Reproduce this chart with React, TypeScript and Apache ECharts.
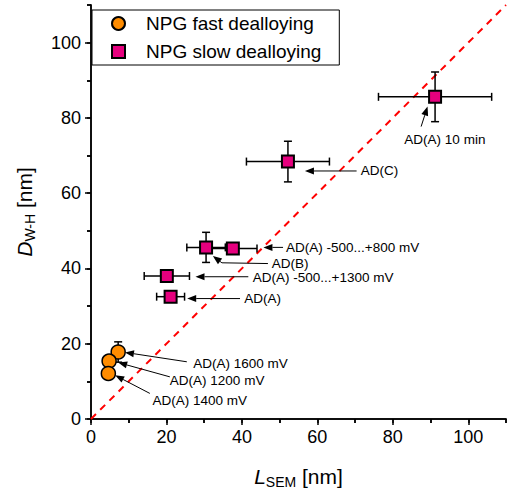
import React, { useEffect, useRef } from "react";
import * as echarts from "echarts";

// ---- data ----
const fastNames = ["AD(A) 1600 mV", "AD(A) 1200 mV", "AD(A) 1400 mV"];
const fastX = [7.2, 4.8, 4.6];
const fastY = [17.8, 15.4, 12.1];
const fastXErr = [1.0, 0.8, 1.0];
const fastYErr = [2.7, 1.2, 1.5];

const slowNames = ["AD(A) 10 min", "AD(C)", "AD(A) -500...+800 mV", "AD(B)", "AD(A) -500...+1300 mV", "AD(A)"];
const slowX = [91.2, 52.2, 37.6, 30.5, 20.1, 21.1];
const slowY = [85.6, 68.4, 45.3, 45.6, 38.0, 32.5];
const slowXErr = [15.0, 11.0, 6.4, 5.1, 6.0, 3.7];
const slowYErr = [6.6, 5.4, 1.5, 4.0, 1.5, 1.0];

const majorTicks = [0, 20, 40, 60, 80, 100];
const minorTicks = [10, 30, 50, 70, 90, 110];
const allTicks = [0, 10, 20, 30, 40, 50, 60, 70, 80, 90, 100, 110];

// annotations in data coordinates: tail, bend, tip, text anchor
const annoTexts = ["AD(A) 10 min", "AD(C)", "AD(A) -500...+800 mV", "AD(B)", "AD(A) -500...+1300 mV", "AD(A)", "AD(A) 1600 mV", "AD(A) 1200 mV", "AD(A) 1400 mV"];
const annoAlign = ["center", "left", "left", "left", "left", "left", "left", "left", "left"];
const annoTail = [[87.5, 77.7], [70.4, 65.9], [50.9, 45.6], [46.9, 41.3], [41.7, 37.8], [39.5, 32.0], [25.4, 15.2], [20.9, 11.2], [15.6, 6.8]];
const annoBend = [[87.5, 77.7], [70.4, 65.9], [50.9, 45.6], [34.7, 41.5], [41.7, 37.8], [39.5, 32.0], [25.4, 15.2], [20.9, 11.2], [15.6, 6.8]];
const annoTip = [[89.2, 83.0], [56.7, 65.9], [45.7, 45.6], [32.3, 43.3], [27.7, 37.8], [25.5, 32.0], [9.0, 17.7], [7.2, 15.0], [6.4, 11.6]];
const annoTextPos = [[93.8, 74.2], [71.5, 65.9], [51.7, 45.6], [47.9, 41.4], [42.9, 37.6], [40.6, 32.0], [27.1, 14.7], [20.9, 10.1], [16.3, 5.0]];

const FONT = "'Liberation Sans', Arial, sans-serif";
const ORANGE = "#FF8C00";
const PINK = "#E6007E";

function errorRender(params: any, api: any) {
  const x = api.value(0), y = api.value(1), ex = api.value(2), ey = api.value(3);
  const l = api.coord([x - ex, y]);
  const r = api.coord([x + ex, y]);
  const t = api.coord([x, y + ey]);
  const b = api.coord([x, y - ey]);
  const cap = 4;
  const st = { stroke: "#000", lineWidth: 1.5 };
  return {
    type: "group",
    children: [
      { type: "line", shape: { x1: l[0], y1: l[1], x2: r[0], y2: r[1] }, style: st },
      { type: "line", shape: { x1: l[0], y1: l[1] - cap, x2: l[0], y2: l[1] + cap }, style: st },
      { type: "line", shape: { x1: r[0], y1: r[1] - cap, x2: r[0], y2: r[1] + cap }, style: st },
      { type: "line", shape: { x1: t[0], y1: t[1], x2: b[0], y2: b[1] }, style: st },
      { type: "line", shape: { x1: t[0] - cap, y1: t[1], x2: t[0] + cap, y2: t[1] }, style: st },
      { type: "line", shape: { x1: b[0] - cap, y1: b[1], x2: b[0] + cap, y2: b[1] }, style: st },
    ],
  };
}

function annoRender(params: any, api: any) {
  const i = params.dataIndex;
  const tail = api.coord([api.value(0), api.value(1)]);
  const bend = api.coord([api.value(2), api.value(3)]);
  const tip = api.coord([api.value(4), api.value(5)]);
  const tp = api.coord([api.value(6), api.value(7)]);
  const dx = tip[0] - bend[0], dy = tip[1] - bend[1];
  const len = Math.sqrt(dx * dx + dy * dy) || 1;
  const ux = dx / len, uy = dy / len;
  const L = 9, W = 3.5;
  const bx = tip[0] - L * ux, by = tip[1] - L * uy;
  const pts = [tail, bend, [bx, by]];
  return {
    type: "group",
    children: [
      { type: "polyline", shape: { points: pts }, style: { stroke: "#000", lineWidth: 1, fill: null } },
      {
        type: "polygon",
        shape: { points: [tip, [bx - W * uy, by + W * ux], [bx + W * uy, by - W * ux]] },
        style: { fill: "#000" },
      },
      {
        type: "text",
        x: tp[0],
        y: tp[1],
        style: {
          text: annoTexts[i],
          fill: "#000",
          font: `13.5px ${FONT}`,
          align: annoAlign[i],
          verticalAlign: "middle",
        },
      },
    ],
  };
}

export default function App() {
  const ref = useRef<HTMLDivElement>(null);
  useEffect(() => {
    document.body.style.margin = "0";
    const chart = echarts.init(ref.current!, null, { renderer: "svg" });
    const axisLine = { show: true, lineStyle: { color: "#000", width: 1.5 } };
    const tickStyle = { color: "#000", width: 1.5 };
    const labelStyle = { color: "#000", fontSize: 18, fontFamily: FONT };
    const base = { type: "value", min: 0, max: 110, splitLine: { show: false }, gridIndex: 0 };

    const xName = "{i|L}{s|SEM}{n| [nm]}";
    const yName = "{i|D}{s|W-H}{n| [nm]}";
    const rich = {
      i: { fontSize: 21, fontStyle: "italic", fontFamily: FONT, color: "#000", lineHeight: 26, verticalAlign: "middle" },
      s: { fontSize: 14, fontFamily: FONT, color: "#000", verticalAlign: "bottom", lineHeight: 26 },
      n: { fontSize: 21, fontFamily: FONT, color: "#000", lineHeight: 26, verticalAlign: "middle" },
    };

    chart.setOption({
      animation: false,
      grid: { left: 91, right: 5, top: 5, bottom: 72, containLabel: false, outerBoundsMode: "none" },
      legend: {
        orient: "vertical",
        left: 92,
        top: 10,
        padding: [4, 18, 4, 19],
        itemGap: 9,
        itemWidth: 13,
        itemHeight: 13,
        borderColor: "#000",
        borderWidth: 1,
        borderRadius: 0,
        backgroundColor: "#fff",
        textStyle: { fontSize: 19, fontFamily: FONT, color: "#000", padding: [0, 0, 0, 16] },
        data: ["NPG fast dealloying", "NPG slow dealloying"],
      },
      xAxis: [
        {
          ...base,
          position: "bottom",
          axisLine,
          axisTick: { show: true, inside: false, length: 6, customValues: majorTicks, lineStyle: tickStyle },
          axisLabel: { ...labelStyle, margin: 9, customValues: majorTicks },
          name: xName,
          nameLocation: "middle",
          nameGap: 44,
          nameTextStyle: { rich },
        },
        {
          ...base,
          position: "bottom",
          axisLine: { show: false },
          axisTick: { show: true, inside: false, length: 4, customValues: minorTicks, lineStyle: tickStyle },
          axisLabel: { show: false },
        },
        {
          ...base,
          position: "top",
          axisLine,
          axisTick: { show: true, inside: true, length: 4, customValues: allTicks, lineStyle: tickStyle },
          axisLabel: { show: false },
        },
      ],
      yAxis: [
        {
          ...base,
          position: "left",
          axisLine,
          axisTick: { show: true, inside: false, length: 6, customValues: majorTicks, lineStyle: tickStyle },
          axisLabel: { ...labelStyle, margin: 10, customValues: majorTicks },
          name: yName,
          nameLocation: "middle",
          nameGap: 54,
          nameRotate: 90,
          nameTextStyle: { rich },
        },
        {
          ...base,
          position: "left",
          axisLine: { show: false },
          axisTick: { show: true, inside: false, length: 4, customValues: minorTicks, lineStyle: tickStyle },
          axisLabel: { show: false },
        },
        {
          ...base,
          position: "right",
          axisLine,
          axisTick: { show: true, inside: true, length: 4, customValues: allTicks, lineStyle: tickStyle },
          axisLabel: { show: false },
        },
      ],
      series: [
        {
          type: "line",
          data: [[0, 0], [110, 110]],
          symbol: "none",
          lineStyle: { color: "#FF0000", width: 2, type: [7, 6] },
          silent: true,
          z: 1,
        },
        {
          type: "custom",
          renderItem: annoRender,
          data: annoTexts.map((_, i) => [...annoTail[i], ...annoBend[i], ...annoTip[i], ...annoTextPos[i]]),
          encode: { x: [0, 2, 4, 6], y: [1, 3, 5, 7] },
          silent: true,
          z: 2,
        },
        {
          type: "custom",
          renderItem: errorRender,
          data: slowX.map((x, i) => [x, slowY[i], slowXErr[i], slowYErr[i]]),
          encode: { x: 0, y: 1 },
          z: 3,
        },
        {
          type: "custom",
          renderItem: errorRender,
          data: fastX.map((x, i) => [x, fastY[i], fastXErr[i], fastYErr[i]]),
          encode: { x: 0, y: 1 },
          z: 3,
        },
        {
          name: "NPG fast dealloying",
          type: "scatter",
          symbol: "circle",
          symbolSize: 14,
          data: fastX.map((x, i) => ({ name: fastNames[i], value: [x, fastY[i]] })),
          itemStyle: { color: ORANGE, borderColor: "#000", borderWidth: 1.5, opacity: 1 },
          z: 4,
        },
        {
          name: "NPG slow dealloying",
          type: "scatter",
          symbol: "rect",
          symbolSize: 12,
          data: slowX.map((x, i) => ({ name: slowNames[i], value: [x, slowY[i]] })),
          itemStyle: { color: PINK, borderColor: "#000", borderWidth: 2, opacity: 1 },
          z: 4,
        },
      ],
    });
    return () => chart.dispose();
  }, []);
  return <div ref={ref} style={{ width: 511, height: 491 }} />;
}
